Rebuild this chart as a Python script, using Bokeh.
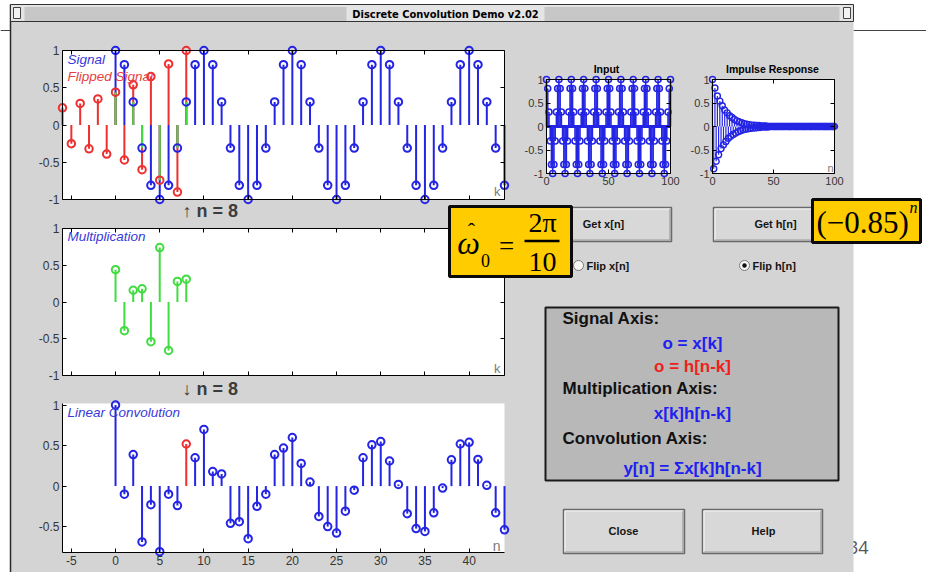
from bokeh.plotting import figure
from bokeh.models import Range1d, LinearAxis, FixedTicker, CustomJSTickFormatter
from bokeh.core.properties import value
from bokeh.embed import file_html
from bokeh.resources import INLINE

# ---------------- data ----------------
current_n = 8

signal_k = list(range(0, 101))
signal_x = [
    1.0, 0.81, 0.31, -0.31, -0.81, -1.0, -0.81, -0.31, 0.31, 0.81,
    1.0, 0.81, 0.31, -0.31, -0.81, -1.0, -0.81, -0.31, 0.31, 0.81,
    1.0, 0.81, 0.31, -0.31, -0.81, -1.0, -0.81, -0.31, 0.31, 0.81,
    1.0, 0.81, 0.31, -0.31, -0.81, -1.0, -0.81, -0.31, 0.31, 0.81,
    1.0, 0.81, 0.31, -0.31, -0.81, -1.0, -0.81, -0.31, 0.31, 0.81,
    1.0, 0.81, 0.31, -0.31, -0.81, -1.0, -0.81, -0.31, 0.31, 0.81,
    1.0, 0.81, 0.31, -0.31, -0.81, -1.0, -0.81, -0.31, 0.31, 0.81,
    1.0, 0.81, 0.31, -0.31, -0.81, -1.0, -0.81, -0.31, 0.31, 0.81,
    1.0, 0.81, 0.31, -0.31, -0.81, -1.0, -0.81, -0.31, 0.31, 0.81,
    1.0, 0.81, 0.31, -0.31, -0.81, -1.0, -0.81, -0.31, 0.31, 0.81,
    1.0,
]

flip_k = list(range(-6, 9))
flip_h = [0.23, -0.25, 0.29, -0.32, 0.35, -0.39, 0.44, -0.47, 0.54, -0.60,
          0.65, -0.74, 0.82, -0.90, 1.0]

mult_k = list(range(0, 9))
mult_v = [0.44, -0.39, 0.16, 0.18, -0.54, 0.74, -0.66, 0.28, 0.31]

conv_n = list(range(0, 45))
conv_y = [1.0, -0.10, 0.39, -0.69, -0.23, -0.81, -0.10, -0.24, 0.52, 0.35,
          0.70, 0.18, 0.15, -0.46, -0.44, -0.65, -0.25, -0.10, 0.39, 0.47,
          0.60, 0.28, 0.05, -0.375, -0.50, -0.58, -0.31, -0.05, 0.35, 0.51,
          0.55, 0.31, 0.02, -0.34, -0.525, -0.56, -0.33, -0.025, 0.325, 0.52,
          0.54, 0.33, 0.01, -0.33, -0.54]

imp_n = list(range(0, 101))
imp_h = ([1.0, -0.90, 0.82, -0.74, 0.65, -0.60, 0.54, -0.47, 0.44, -0.39,
          0.35, -0.32, 0.29, -0.25, 0.23, -0.21, 0.19, -0.17, 0.15, -0.14,
          0.12, -0.11, 0.10, -0.09, 0.08, -0.07, 0.06, -0.06, 0.05, -0.05,
          0.04, -0.04, 0.03, -0.03, 0.03, -0.03, 0.02, -0.02, 0.02, -0.02,
          0.01, -0.01, 0.01, -0.01, 0.01, -0.01] + [0.0] * 55)

main_xticks = [-5, 0, 5, 10, 15, 20, 25, 30, 35, 40]
unit_yticks = [-1, -0.5, 0, 0.5, 1]
conv_yticks = [-0.5, 0, 0.5, 1]
small_xticks = [0, 50, 100]

# ---------------- styling ----------------
SANS = "Liberation Sans"
SERIF = "Liberation Serif"
NARROW = "Liberation Sans Narrow, DejaVu Sans Condensed, Liberation Sans, sans-serif"
BLUE = "#2424e4"
RED = "#ee3030"
GREEN = "#40dc40"
WIN = "#d4d4d4"
W, H = 926, 572

p = figure(width=W, height=H, x_range=Range1d(0, W), y_range=Range1d(H, 0),
           output_backend="svg", toolbar_location=None, min_border=0,
           x_axis_location=None, y_axis_location=None)
p.outline_line_color = None
p.background_fill_color = "white"
p.border_fill_color = "white"
for g in p.grid:
    g.visible = False


def txt(x, y, s, size, color="black", font=SANS, style="normal", align="left", level="glyph"):
    p.text(x=[x], y=[y], text=[s], text_font=value(font), text_font_size=size,
           text_font_style=style, text_color=color, text_align=align,
           text_baseline="middle", level=level)


# slide background elements (under the window)
txt(868, 547, "34", "18px", color="#555555", font="Open Sans", align="right")
p.segment(x0=[0, 853], y0=[30, 30], x1=[10, 926], y1=[30, 30], line_color="#444444", line_width=1)

# window
p.quad(left=10, right=853, top=21, bottom=572, fill_color=WIN, line_color=None)
p.segment(x0=10, y0=4, x1=10, y1=572, line_color="#2a2a2a", line_width=1.5)

# title bar
p.quad(left=10, right=853, top=4, bottom=21, fill_color="#e4e4e4", line_color="#333333", line_width=1)
stripe_y = [7.5, 9.5, 11.5, 13.5, 15.5, 17.5, 19.5]
p.segment(x0=[24] * 7, y0=stripe_y, x1=[346] * 7, y1=stripe_y, line_color="#a9a9a9", line_width=1)
p.segment(x0=[544] * 7, y0=stripe_y, x1=[839] * 7, y1=stripe_y, line_color="#a9a9a9", line_width=1)
p.quad(left=[13, 843], right=[20, 850], top=[7, 7], bottom=[18, 18], fill_color="#f2f2f2",
       line_color="#444444", line_width=1)
txt(445, 13.5, "Discrete Convolution Demo v2.02", "11px", font=NARROW, style="bold",
    align="center")


def subplot(name, xlim, ylim, X0, X1, Ytop, Ybot, xticks, yticks,
            show_xlabels=True, box=True, fs="12px"):
    sx = (xlim[1] - xlim[0]) / (X1 - X0)
    sy = (ylim[1] - ylim[0]) / (Ybot - Ytop)
    p.extra_x_ranges[name] = Range1d(xlim[0] + (0 - X0) * sx, xlim[0] + (W - X0) * sx)
    p.extra_y_ranges[name] = Range1d(ylim[0] - (H - Ybot) * sy, ylim[1] + (Ytop - 0) * sy)
    rn = dict(x_range_name=name, y_range_name=name)
    p.quad(left=[xlim[0]], right=[xlim[1]], bottom=[ylim[0]], top=[ylim[1]],
           fill_color="white", line_color=None, **rn)

    def mk(ticks, bounds, loc, labels, side):
        ax = LinearAxis(ticker=FixedTicker(ticks=ticks), bounds=bounds, fixed_location=loc,
                        formatter=CustomJSTickFormatter(
                            code="return tick.toString()" if labels else "return ''"),
                        axis_line_color="black", axis_line_width=1,
                        major_tick_in=4, major_tick_out=0, major_tick_line_color="black",
                        minor_tick_line_color=None,
                        major_label_text_font=SANS, major_label_text_font_size=fs,
                        major_label_text_color="#353535", major_label_standoff=3, **rn)
        p.add_layout(ax, side)

    mk(xticks, xlim, ylim[0], show_xlabels, "below")
    mk(yticks, ylim, xlim[0], True, "left")
    if box:
        mk(xticks, xlim, ylim[1], False, "above")
        mk(yticks, ylim, xlim[1], False, "right")
    return rn


def stems(xs, ys, color, rn, lw=2.0, size=7, mlw=2.0, markers=True):
    p.segment(x0=xs, y0=[0] * len(xs), x1=xs, y1=ys, line_color=color, line_width=lw, **rn)
    if markers:
        p.scatter(x=xs, y=ys, marker="circle", size=size, fill_alpha=0,
                  line_color=color, line_width=mlw, **rn)


# ---------------- top: signal and flipped signal ----------------
rt = subplot("top", (-6, 44), (-1, 1), 62, 504, 50, 199, main_xticks, unit_yticks,
             show_xlabels=False)
top_k = signal_k[:45]
top_x = signal_x[:45]
stems(top_k, top_x, BLUE, rt, markers=False)
stems(flip_k, flip_h, RED, rt, markers=False)
ov_k, ov_v = [], []
for k, h in zip(flip_k, flip_h):
    if 0 <= k < len(top_x) and top_x[k] * h > 0:
        ov_k.append(k)
        ov_v.append(min(abs(top_x[k]), abs(h)) * (1 if h > 0 else -1))
stems(ov_k, ov_v, GREEN, rt, markers=False)
p.scatter(x=top_k, y=top_x, marker="circle", size=7.5, fill_alpha=0, line_color=BLUE, line_width=2, **rt)
p.scatter(x=flip_k, y=flip_h, marker="circle", size=7.5, fill_alpha=0, line_color=RED, line_width=2, **rt)
txt(67, 58.5, "Signal", "13.5px", color="#3838d8", style="italic")
txt(67, 75.5, "Flipped Signal", "13.5px", color="#e84040", style="italic")
txt(500, 191, "k", "13px", color="#7a7a7a", align="right")
txt(182, 210, "\u2191 n = %d" % current_n, "18px", color="#3c3c3c", style="bold")

# ---------------- middle: multiplication ----------------
rm = subplot("mid", (-6, 44), (-1, 1), 62, 504, 228, 375, main_xticks, unit_yticks,
             show_xlabels=False)
stems(mult_k, mult_v, GREEN, rm, size=7.5)
txt(67, 236, "Multiplication", "13.5px", color="#3838d8", style="italic")
txt(500, 368, "k", "13px", color="#7a7a7a", align="right")
txt(182, 388, "\u2193 n = %d" % current_n, "18px", color="#3c3c3c", style="bold")

# ---------------- bottom: linear convolution ----------------
rb = subplot("bot", (-6, 44), (-0.82, 1.02), 62, 504, 403, 552, main_xticks, conv_yticks,
             box=False)
conv_col = [RED if n == current_n else BLUE for n in conv_n]
p.segment(x0=conv_n, y0=[0] * len(conv_n), x1=conv_n, y1=conv_y, line_color=conv_col,
          line_width=2, **rb)
p.scatter(x=conv_n, y=conv_y, marker="circle", size=7.5, fill_alpha=0, line_color=conv_col,
          line_width=2, **rb)
txt(67, 412, "Linear Convolution", "13.5px", color="#3838d8", style="italic")
txt(500, 545, "n", "14px", color="#7a7a7a", align="right")

# ---------------- input ----------------
ri = subplot("inp", (0, 100), (-1, 1), 546, 670, 79, 173, small_xticks, unit_yticks, fs="11px")
p.segment(x0=[0], y0=[0], x1=[100], y1=[0], line_color=BLUE, line_width=3, **ri)
stems(signal_k, signal_x, BLUE, ri, lw=1.6, size=6, mlw=1.6)
txt(606, 68, "Input", "10.5px", style="bold", align="center")

# ---------------- impulse response ----------------
rh = subplot("imp", (0, 100), (-1, 1), 712, 834, 79, 173, small_xticks, unit_yticks, fs="11px")
stems(imp_n, imp_h, BLUE, rh, lw=1.2, size=6, mlw=1.4)
txt(772, 68, "Impulse Response", "10.5px", style="bold", align="center")
txt(833, 167, "n", "11px", color="#7a7a7a", align="right")

# ---------------- controls ----------------
def button(l, r, t, b, label, cx, cy):
    p.quad(left=l, right=r, top=t, bottom=b, fill_color="#d8d8d8", line_color="#6a6a6a", line_width=1.5)
    p.segment(x0=[l + 1.5, l + 1.5], y0=[t + 1.5, t + 1.5], x1=[r - 1.5, l + 1.5], y1=[t + 1.5, b - 1.5],
              line_color="#f4f4f4", line_width=1.2)
    p.segment(x0=[l + 1.5, r - 1.5], y0=[b - 1.5, b - 1.5], x1=[r - 1.5, r - 1.5], y1=[b - 1.5, t + 1.5],
              line_color="#9a9a9a", line_width=1.2)
    txt(cx, cy, label, "11px", color="#151515", style="bold", align="center")


button(556, 671, 207, 241, "Get x[n]", 603, 223)
button(713, 832, 207, 241, "Get h[n]", 775, 223)
button(563, 684, 509, 553, "Close", 623, 530)
button(702, 822, 509, 553, "Help", 763, 530)

p.scatter(x=[578, 744], y=[265, 265], marker="circle", size=10, fill_color="#f6f6f6",
          line_color="#7a7a7a", line_width=1)
p.scatter(x=[744], y=[265], marker="circle", size=4.5, fill_color="#111111", line_color=None)
txt(586, 265, "Flip x[n]", "11px", color="#151515", style="bold")
txt(752, 265, "Flip h[n]", "11px", color="#151515", style="bold")

# legend panel
p.quad(left=545, right=838, top=307, bottom=480, fill_color="#b8b8b8", line_color="#1a1a1a", line_width=2)
txt(562, 318, "Signal Axis:", "17px", color="#111111", style="bold")
txt(692, 343, "o = x[k]", "17px", color="#2020f0", style="bold", align="center")
txt(692, 366, "o = h[n-k]", "17px", color="#f02020", style="bold", align="center")
txt(562, 388, "Multiplication Axis:", "17px", color="#111111", style="bold")
txt(692, 413, "x[k]h[n-k]", "17px", color="#2020f0", style="bold", align="center")
txt(562, 438, "Convolution Axis:", "17px", color="#111111", style="bold")
txt(692, 468, "y[n] = \u03a3x[k]h[n-k]", "17px", color="#2020f0", style="bold", align="center")

# yellow annotation boxes (on top of everything)
p.quad(left=[449, 812], right=[571, 920], top=[206, 199], bottom=[276, 242], fill_color="#ffcc00",
       line_color="#0a0a0a", line_width=3, level="overlay")
txt(468, 242, "\u03c9", "32px", font=SERIF, style="italic", align="center", level="overlay")
txt(471, 230, "\u02c6", "22px", font=SERIF, align="center", level="overlay")
txt(485, 260, "0", "18px", font=SERIF, align="center", level="overlay")
txt(506, 245, "=", "27px", font=SERIF, align="center", level="overlay")
txt(542, 222, "2\u03c0", "28px", font=SERIF, align="center", level="overlay")
p.segment(x0=[524], y0=[240.5], x1=[559], y1=[240.5], line_color="black", line_width=2.5, level="overlay")
txt(542, 261, "10", "28px", font=SERIF, align="center", level="overlay")
txt(816, 222, "(\u22120.85)", "31px", font=SERIF, level="overlay")
txt(909, 207, "n", "16px", font=SERIF, style="italic", level="overlay")

open("out.html", "w").write(file_html(p, INLINE))
